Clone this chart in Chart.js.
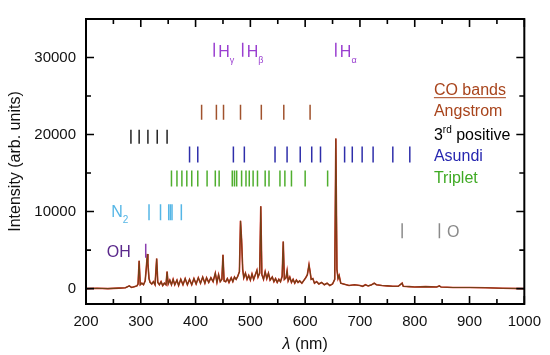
<!DOCTYPE html>
<html>
<head>
<meta charset="utf-8">
<script src="https://cdn.jsdelivr.net/npm/chart.js@4.4.0/dist/chart.umd.min.js"></script>
<style>
  html, body { margin: 0; padding: 0; background: #fff; }
</style>
</head>
<body>
<canvas id="spec" width="550" height="355"></canvas>
<script>
// emission spectrum (nm, arb. units)
const wavelength = [200, 220, 240, 260, 272, 279, 283, 288, 293, 295, 297, 299, 302, 305, 308, 310, 312, 313, 315, 317, 320, 323, 326, 329, 331, 334, 337, 340, 343, 346, 348, 350, 353, 356, 359, 362, 366, 369, 373, 377, 381, 385, 389, 393, 397, 401, 405, 409, 413, 417, 420, 424, 428, 432, 436, 439, 442, 445, 448, 450, 452, 455, 458, 461, 465, 468, 471, 474, 477, 480, 482, 484, 486, 488, 491, 494, 497, 500, 503, 506, 509, 512, 514, 517, 519, 521, 524, 527, 530, 533, 536, 540, 543, 546, 549, 552, 555, 558, 560, 562, 565, 567, 569, 572, 575, 578, 581, 584, 587, 590, 594, 598, 601, 604, 607, 609, 611, 614, 617, 621, 625, 630, 635, 640, 645, 650, 654, 656, 658, 660, 662, 665, 670, 675, 680, 690, 700, 705, 710, 715, 720, 726, 730, 740, 750, 760, 770, 777, 779, 790, 800, 820, 840, 845, 848, 870, 900, 930, 960, 1000];
const intensity = [0, 50, 0, 60, 100, 350, 150, 250, 350, 600, 3600, 500, 700, 500, 1000, 2600, 4500, 3300, 1300, 800, 600, 900, 500, 3900, 800, 500, 900, 400, 700, 500, 2200, 600, 1100, 500, 1200, 500, 1100, 400, 1200, 500, 1300, 500, 1200, 500, 1300, 600, 1400, 700, 1500, 700, 1400, 800, 1400, 900, 2000, 800, 1800, 900, 1200, 4400, 1000, 900, 1300, 800, 1400, 900, 1500, 1200, 1600, 2200, 8800, 6300, 2500, 1400, 2000, 1200, 1700, 1100, 1900, 1200, 1800, 2400, 1500, 2000, 10700, 1800, 1200, 2200, 1300, 2000, 1100, 1500, 900, 1300, 800, 1200, 900, 1600, 6100, 1200, 1400, 2300, 1000, 1500, 800, 1200, 700, 1100, 800, 1000, 700, 1100, 1400, 1800, 3100, 2200, 1200, 1300, 700, 900, 600, 800, 500, 700, 400, 600, 1200, 19500, 2500, 1300, 1700, 700, 600, 500, 400, 500, 400, 300, 500, 350, 450, 700, 500, 400, 350, 300, 300, 700, 300, 250, 200, 250, 200, 350, 200, 150, 150, 100, 50, 0];

// line positions (nm) for each band / atom
const hLines = [434, 486, 656];
const hNames = ['γ', 'β', 'α'];
const coAngstrom = [411, 438, 451, 482, 520, 561, 609];
const coThirdPositive = [282, 297, 313, 330, 348];
const coAsundi = [389, 404, 469, 489, 545, 567, 591, 612, 628, 672, 686, 704, 724, 760, 791];
const coTriplet = [356, 366, 375, 384, 393, 404, 421, 436, 443, 467, 471, 475, 484, 492, 498, 505, 513, 527, 534, 554, 563, 575, 600, 641];
const n2Lines = [315, 336, 351, 354, 357, 374];
const ohLines = [309];
const oLines = [777, 845];

// height (arb. units) at which each row of markers sits
const rowH = 31000, rowAngstrom = 22900, rowThird = 19700, rowAsundi = 17400,
      rowTriplet = 14300, rowN2 = 9900, rowOH = 4900, rowO = 7500;

const xMajor = [200, 300, 400, 500, 600, 700, 800, 900, 1000];
const yMajor = [0, 10000, 20000, 30000];

const FONT = "'Liberation Sans', Arial, sans-serif";

function markers(list, level) {
    return list.map(v => ({ x: v, y: level }));
}

function markerSet(list, level, color, r) {
    return {
        type: 'scatter',
        data: markers(list, level),
        pointStyle: 'line',
        rotation: 90,
        radius: r || 7,
        borderColor: color,
        backgroundColor: color,
        borderWidth: 1.5,
        order: 0
    };
}

// draw text made of pieces (sub/superscripts)
function rich(ctx, x, y, parts, color) {
    ctx.fillStyle = color;
    ctx.textBaseline = 'alphabetic';
    ctx.textAlign = 'left';
    let cx = x;
    parts.forEach(p => {
        ctx.font = (p.italic ? 'italic ' : '') + p.size + 'px ' + FONT;
        ctx.fillText(p.t, cx, y + (p.dy || 0));
        cx += ctx.measureText(p.t).width;
    });
    return cx - x;
}

const framePlugin = {
    id: 'frame',
    afterDatasetsDraw(chart) {
        const { ctx, chartArea: a, scales: { x, y } } = chart;
        ctx.save();
        ctx.strokeStyle = '#000';
        ctx.lineWidth = 2;
        ctx.strokeRect(a.left, a.top, a.right - a.left, a.bottom - a.top);

        // inward ticks, all four sides
        ctx.lineWidth = 1.6;
        ctx.beginPath();
        for (let v = 200; v <= 1000; v += 50) {
            const px = x.getPixelForValue(v);
            const len = v % 100 === 0 ? 8 : 5;
            ctx.moveTo(px, a.bottom); ctx.lineTo(px, a.bottom - len);
            ctx.moveTo(px, a.top); ctx.lineTo(px, a.top + len);
        }
        for (let v = 0; v <= 30000; v += 5000) {
            const py = y.getPixelForValue(v);
            const len = v % 10000 === 0 ? 8 : 5;
            ctx.moveTo(a.left, py); ctx.lineTo(a.left + len, py);
            ctx.moveTo(a.right, py); ctx.lineTo(a.right - len, py);
        }
        ctx.stroke();

        // x title
        const rest = ' (nm)';
        ctx.font = 'italic 16px ' + FONT;
        const wl = ctx.measureText('λ').width;
        ctx.font = '16px ' + FONT;
        const wr = ctx.measureText(rest).width;
        const cx = (a.left + a.right) / 2 - (wl + wr) / 2;
        rich(ctx, cx, 349, [{ t: 'λ', size: 16, italic: true }, { t: rest, size: 16 }], '#111');

        // hydrogen labels
        const hColor = '#9a3fd0';
        hLines.forEach((v, i) => {
            const px = x.getPixelForValue(v) + 4;
            const py = y.getPixelForValue(rowH) + 7;
            rich(ctx, px, py, [{ t: 'H', size: 16 }, { t: hNames[i], size: 9, dy: 6 }], hColor);
        });

        // band legend on the right
        const lx = x.getPixelForValue(835);
        const coColor = '#a8441c';
        const yA = y.getPixelForValue(rowAngstrom) + 4;
        const w = rich(ctx, lx, yA - 21, [{ t: 'CO bands', size: 16 }], coColor);
        ctx.strokeStyle = coColor;
        ctx.lineWidth = 1;
        ctx.beginPath();
        ctx.moveTo(lx, yA - 18.5); ctx.lineTo(lx + w, yA - 18.5);
        ctx.stroke();
        rich(ctx, lx, yA, [{ t: 'Angstrom', size: 16 }], coColor);
        rich(ctx, lx, y.getPixelForValue(rowThird) + 3,
            [{ t: '3', size: 16 }, { t: 'rd', size: 10, dy: -7 }, { t: ' positive', size: 16 }], '#000');
        rich(ctx, lx, y.getPixelForValue(rowAsundi) + 6, [{ t: 'Asundi', size: 16 }], '#2626b0');
        rich(ctx, lx, y.getPixelForValue(rowTriplet) + 5, [{ t: 'Triplet', size: 16 }], '#3faa24');

        // N2, OH, O labels
        rich(ctx, x.getPixelForValue(246), y.getPixelForValue(rowN2) + 5,
            [{ t: 'N', size: 16 }, { t: '2', size: 10, dy: 6 }], '#55b6e6');
        rich(ctx, x.getPixelForValue(238), y.getPixelForValue(rowOH) + 6, [{ t: 'OH', size: 16 }], '#5b2a8c');
        rich(ctx, x.getPixelForValue(859), y.getPixelForValue(rowO) + 6, [{ t: 'O', size: 16 }], '#8a8a8a');
        ctx.restore();
    }
};

const spectrum = wavelength.map((v, i) => ({ x: v, y: intensity[i] }));

new Chart(document.getElementById('spec'), {
    type: 'scatter',
    data: {
        datasets: [
            { type: 'line', data: spectrum, borderColor: '#e0261c', borderWidth: 1.6, pointRadius: 0, tension: 0, order: 2 },
            { type: 'line', data: spectrum, borderColor: '#6e4218', borderWidth: 1.1, pointRadius: 0, tension: 0, order: 1 },
            markerSet(hLines, rowH, '#9a3fd0', 7),
            markerSet(coAngstrom, rowAngstrom, '#a0522d', 7.5),
            markerSet(coThirdPositive, rowThird, '#222', 7),
            markerSet(coAsundi, rowAsundi, '#2e2eaa', 8),
            markerSet(coTriplet, rowTriplet, '#4fae2e', 8),
            markerSet(n2Lines, rowN2, '#55b6e6', 8),
            markerSet(ohLines, rowOH, '#8a3fb0', 7),
            markerSet(oLines, rowO, '#8a8a8a', 7.5)
        ]
    },
    options: {
        responsive: false,
        animation: false,
        events: [],
        layout: { padding: { left: 0, top: 9, right: 22, bottom: 0 } },
        plugins: { legend: { display: false }, tooltip: { enabled: false } },
        scales: {
            x: {
                type: 'linear', min: 200, max: 1000,
                afterBuildTicks: s => { s.ticks = xMajor.map(v => ({ value: v })); },
                afterFit: s => { s.height = 51; },
                grid: { display: false, drawTicks: false },
                border: { display: false },
                ticks: { color: '#111', font: { family: FONT, size: 15 }, padding: 9, maxRotation: 0, callback: v => String(v) }
            },
            y: {
                type: 'linear', min: -2000, max: 35000,
                afterBuildTicks: s => { s.ticks = yMajor.map(v => ({ value: v })); },
                afterFit: s => { s.width = 86; },
                grid: { display: false, drawTicks: false },
                border: { display: false },
                ticks: { color: '#111', font: { family: FONT, size: 15 }, padding: 10, callback: v => String(v) },
                title: { display: true, text: 'Intensity (arb. units)', color: '#111', font: { family: FONT, size: 16 }, padding: { top: 6, bottom: 0 } }
            }
        }
    },
    plugins: [framePlugin]
});
</script>
</body>
</html>
